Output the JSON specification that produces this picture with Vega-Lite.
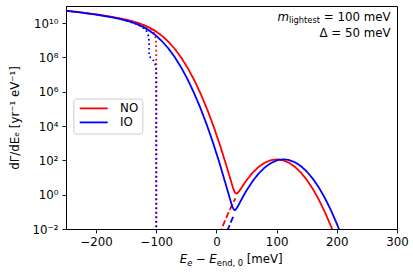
{
  "$schema": "https://vega.github.io/schema/vega-lite/v6.json",
  "width": 331,
  "height": 223,
  "autosize": {"type": "none"},
  "padding": {"left": 66, "top": 6, "right": 16, "bottom": 46},
  "config": {
    "font": "DejaVu Sans",
    "view": {"stroke": "#000000", "strokeWidth": 1},
    "axis": {
      "domainColor": "#000000", "domainWidth": 1,
      "tickColor": "#000000", "tickWidth": 0.9, "tickSize": 4,
      "labelFont": "DejaVu Sans", "labelFontSize": 11.8, "labelColor": "#000000",
      "titleFont": "DejaVu Sans", "titleFontSize": 11.8, "titleColor": "#000000", "titleFontWeight": "normal",
      "grid": false, "labelFlush": false, "labelOverlap": false
    },
    "text": {"font": "DejaVu Sans", "color": "#000000"}
  },
  "datasets": {
    "curves": [
      {"x": -250, "y": 5.374e10, "s": "NO", "k": "solid"},
      {"x": -225, "y": 4.265e10, "s": "NO", "k": "solid"},
      {"x": -200, "y": 3.266e10, "s": "NO", "k": "solid"},
      {"x": -175, "y": 2.379e10, "s": "NO", "k": "solid"},
      {"x": -160, "y": 1.897e10, "s": "NO", "k": "solid"},
      {"x": -150, "y": 1.595e10, "s": "NO", "k": "solid"},
      {"x": -142.46, "y": 1.376e10, "s": "NO", "k": "solid"},
      {"x": -131.85, "y": 1.068e10, "s": "NO", "k": "solid"},
      {"x": -121.23, "y": 7.869e9, "s": "NO", "k": "solid"},
      {"x": -110.62, "y": 5.326e9, "s": "NO", "k": "solid"},
      {"x": -100, "y": 3.222e9, "s": "NO", "k": "solid"},
      {"x": -89.39, "y": 1.696e9, "s": "NO", "k": "solid"},
      {"x": -78.77, "y": 7.59e8, "s": "NO", "k": "solid"},
      {"x": -68.16, "y": 2.832e8, "s": "NO", "k": "solid"},
      {"x": -57.54, "y": 8.682e7, "s": "NO", "k": "solid"},
      {"x": -46.93, "y": 2.162e7, "s": "NO", "k": "solid"},
      {"x": -36.31, "y": 4.331e6, "s": "NO", "k": "solid"},
      {"x": -25.7, "y": 6.918e5, "s": "NO", "k": "solid"},
      {"x": -15.08, "y": 8.872e4, "s": "NO", "k": "solid"},
      {"x": -4.47, "y": 8974, "s": "NO", "k": "solid"},
      {"x": 6.15, "y": 719.5, "s": "NO", "k": "solid"},
      {"x": 16.77, "y": 45.45, "s": "NO", "k": "solid"},
      {"x": 27.38, "y": 2.569, "s": "NO", "k": "solid"},
      {"x": 29.5, "y": 1.621, "s": "NO", "k": "solid"},
      {"x": 31.6, "y": 1.231, "s": "NO", "k": "solid"},
      {"x": 34, "y": 1.173, "s": "NO", "k": "solid"},
      {"x": 38, "y": 1.637, "s": "NO", "k": "solid"},
      {"x": 45, "y": 3.873, "s": "NO", "k": "solid"},
      {"x": 50, "y": 6.934, "s": "NO", "k": "solid"},
      {"x": 60, "y": 18.95, "s": "NO", "k": "solid"},
      {"x": 70, "y": 41.47, "s": "NO", "k": "solid"},
      {"x": 80, "y": 72.69, "s": "NO", "k": "solid"},
      {"x": 90, "y": 102.1, "s": "NO", "k": "solid"},
      {"x": 100.3, "y": 114.8, "s": "NO", "k": "solid"},
      {"x": 110, "y": 103.4, "s": "NO", "k": "solid"},
      {"x": 120, "y": 74.64, "s": "NO", "k": "solid"},
      {"x": 130, "y": 43.15, "s": "NO", "k": "solid"},
      {"x": 140, "y": 19.98, "s": "NO", "k": "solid"},
      {"x": 150, "y": 7.413, "s": "NO", "k": "solid"},
      {"x": 160, "y": 2.203, "s": "NO", "k": "solid"},
      {"x": 170, "y": 0.5241, "s": "NO", "k": "solid"},
      {"x": 180, "y": 0.09991, "s": "NO", "k": "solid"},
      {"x": 190, "y": 0.01526, "s": "NO", "k": "solid"},
      {"x": 195, "y": 0.005486, "s": "NO", "k": "solid"},
      {"x": -130, "y": 1.001e10, "s": "NO", "k": "dotted"},
      {"x": -120, "y": 7.356e9, "s": "NO", "k": "dotted"},
      {"x": -115, "y": 6.008e9, "s": "NO", "k": "dotted"},
      {"x": -112, "y": 5.159e9, "s": "NO", "k": "dotted"},
      {"x": -110, "y": 4.591e9, "s": "NO", "k": "dotted"},
      {"x": -108, "y": 4.014e9, "s": "NO", "k": "dotted"},
      {"x": -106, "y": 3.394e9, "s": "NO", "k": "dotted"},
      {"x": -104, "y": 2.706e9, "s": "NO", "k": "dotted"},
      {"x": -102, "y": 1.867e9, "s": "NO", "k": "dotted"},
      {"x": -101, "y": 1.304e9, "s": "NO", "k": "dotted"},
      {"x": -100.5, "y": 9.162e8, "s": "NO", "k": "dotted"},
      {"x": -100.2, "y": 5.768e8, "s": "NO", "k": "dotted"},
      {"x": -100.05, "y": 2.877e8, "s": "NO", "k": "dotted"},
      {"x": -100.001, "y": 4.07e7, "s": "NO", "k": "dotted"},
      {"x": -100, "y": 0.0001, "s": "NO", "k": "dotted"},
      {"x": 5, "y": 0.00483, "s": "NO", "k": "dashed"},
      {"x": 8, "y": 0.00904, "s": "NO", "k": "dashed"},
      {"x": 10, "y": 0.01352, "s": "NO", "k": "dashed"},
      {"x": 15, "y": 0.03584, "s": "NO", "k": "dashed"},
      {"x": 20, "y": 0.08983, "s": "NO", "k": "dashed"},
      {"x": 25, "y": 0.2129, "s": "NO", "k": "dashed"},
      {"x": 29.5, "y": 0.4416, "s": "NO", "k": "dashed"},
      {"x": 31.55, "y": 0.607, "s": "NO", "k": "dashed"},
      {"x": -250, "y": 5.248e10, "s": "IO", "k": "solid"},
      {"x": -225, "y": 4.134e10, "s": "IO", "k": "solid"},
      {"x": -200, "y": 3.13e10, "s": "IO", "k": "solid"},
      {"x": -175, "y": 2.232e10, "s": "IO", "k": "solid"},
      {"x": -160, "y": 1.738e10, "s": "IO", "k": "solid"},
      {"x": -150, "y": 1.423e10, "s": "IO", "k": "solid"},
      {"x": -143.75, "y": 1.219e10, "s": "IO", "k": "solid"},
      {"x": -133.13, "y": 9.048e9, "s": "IO", "k": "solid"},
      {"x": -122.52, "y": 6.169e9, "s": "IO", "k": "solid"},
      {"x": -111.9, "y": 3.761e9, "s": "IO", "k": "solid"},
      {"x": -101.29, "y": 1.997e9, "s": "IO", "k": "solid"},
      {"x": -90.67, "y": 9.031e8, "s": "IO", "k": "solid"},
      {"x": -80.06, "y": 3.412e8, "s": "IO", "k": "solid"},
      {"x": -69.44, "y": 1.062e8, "s": "IO", "k": "solid"},
      {"x": -58.83, "y": 2.692e7, "s": "IO", "k": "solid"},
      {"x": -48.21, "y": 5.523e6, "s": "IO", "k": "solid"},
      {"x": -37.6, "y": 9.084e5, "s": "IO", "k": "solid"},
      {"x": -26.98, "y": 1.207e5, "s": "IO", "k": "solid"},
      {"x": -16.37, "y": 1.279e4, "s": "IO", "k": "solid"},
      {"x": -5.75, "y": 1086, "s": "IO", "k": "solid"},
      {"x": 4.87, "y": 73.67, "s": "IO", "k": "solid"},
      {"x": 15.48, "y": 3.99, "s": "IO", "k": "solid"},
      {"x": 26.1, "y": 0.21, "s": "IO", "k": "solid"},
      {"x": 29, "y": 0.133, "s": "IO", "k": "solid"},
      {"x": 31, "y": 0.1281, "s": "IO", "k": "solid"},
      {"x": 33, "y": 0.1492, "s": "IO", "k": "solid"},
      {"x": 36.71, "y": 0.2477, "s": "IO", "k": "solid"},
      {"x": 40, "y": 0.413, "s": "IO", "k": "solid"},
      {"x": 45, "y": 0.8715, "s": "IO", "k": "solid"},
      {"x": 50, "y": 1.759, "s": "IO", "k": "solid"},
      {"x": 60, "y": 6.084, "s": "IO", "k": "solid"},
      {"x": 70, "y": 16.95, "s": "IO", "k": "solid"},
      {"x": 80, "y": 37.93, "s": "IO", "k": "solid"},
      {"x": 90, "y": 68.22, "s": "IO", "k": "solid"},
      {"x": 100, "y": 98.47, "s": "IO", "k": "solid"},
      {"x": 105, "y": 108.97, "s": "IO", "k": "solid"},
      {"x": 111.9, "y": 114.45, "s": "IO", "k": "solid"},
      {"x": 120, "y": 106.02, "s": "IO", "k": "solid"},
      {"x": 130, "y": 79.02, "s": "IO", "k": "solid"},
      {"x": 140, "y": 47.19, "s": "IO", "k": "solid"},
      {"x": 150, "y": 22.61, "s": "IO", "k": "solid"},
      {"x": 160, "y": 8.67, "s": "IO", "k": "solid"},
      {"x": 170, "y": 2.666, "s": "IO", "k": "solid"},
      {"x": 180, "y": 0.6571, "s": "IO", "k": "solid"},
      {"x": 190, "y": 0.1293, "s": "IO", "k": "solid"},
      {"x": 200, "y": 0.02046, "s": "IO", "k": "solid"},
      {"x": 205, "y": 0.007486, "s": "IO", "k": "solid"},
      {"x": -150, "y": 1.399e10, "s": "IO", "k": "dotted"},
      {"x": -140, "y": 1.101e10, "s": "IO", "k": "dotted"},
      {"x": -130, "y": 8.055e9, "s": "IO", "k": "dotted"},
      {"x": -125, "y": 6.534e9, "s": "IO", "k": "dotted"},
      {"x": -120, "y": 4.898e9, "s": "IO", "k": "dotted"},
      {"x": -117, "y": 3.784e9, "s": "IO", "k": "dotted"},
      {"x": -115, "y": 2.911e9, "s": "IO", "k": "dotted"},
      {"x": -113, "y": 1.74e9, "s": "IO", "k": "dotted"},
      {"x": -112.5, "y": 1.306e9, "s": "IO", "k": "dotted"},
      {"x": -112.1, "y": 7.954e8, "s": "IO", "k": "dotted"},
      {"x": -112, "y": 5.943e8, "s": "IO", "k": "dotted"},
      {"x": -111.95, "y": 4.71e8, "s": "IO", "k": "dotted"},
      {"x": -111.9, "y": 1.151e8, "s": "IO", "k": "dotted"},
      {"x": -111, "y": 1.095e8, "s": "IO", "k": "dotted"},
      {"x": -110, "y": 1.033e8, "s": "IO", "k": "dotted"},
      {"x": -108, "y": 9.031e7, "s": "IO", "k": "dotted"},
      {"x": -106, "y": 7.634e7, "s": "IO", "k": "dotted"},
      {"x": -104, "y": 6.085e7, "s": "IO", "k": "dotted"},
      {"x": -102, "y": 4.2e7, "s": "IO", "k": "dotted"},
      {"x": -101, "y": 2.934e7, "s": "IO", "k": "dotted"},
      {"x": -100.5, "y": 2.06e7, "s": "IO", "k": "dotted"},
      {"x": -100.2, "y": 1.297e7, "s": "IO", "k": "dotted"},
      {"x": -100.05, "y": 6.471e6, "s": "IO", "k": "dotted"},
      {"x": -100, "y": 0.0001, "s": "IO", "k": "dotted"},
      {"x": 18, "y": 0.0078, "s": "IO", "k": "dashed"},
      {"x": 20, "y": 0.01167, "s": "IO", "k": "dashed"},
      {"x": 22, "y": 0.0173, "s": "IO", "k": "dashed"},
      {"x": 25, "y": 0.03076, "s": "IO", "k": "dashed"},
      {"x": 27, "y": 0.04465, "s": "IO", "k": "dashed"},
      {"x": 29.1, "y": 0.0653, "s": "IO", "k": "dashed"}
    ]
  },
  "layer": [
    {
      "data": {"name": "curves"},
      "mark": {"type": "line", "clip": true, "strokeWidth": 1.8, "strokeJoin": "round"},
      "encoding": {
        "x": {
          "field": "x", "type": "quantitative",
          "scale": {"domain": [-250, 300], "nice": false, "zero": false},
          "axis": {"values": [-200, -100, 0, 100, 200, 300], "title": null, "labelPadding": 3.5}
        },
        "y": {
          "field": "y", "type": "quantitative",
          "scale": {"type": "log", "domain": [0.01, 1e11], "nice": false},
          "axis": {
            "values": [0.01, 1, 100, 10000, 1000000, 100000000, 10000000000],
            "labelExpr": "datum.value < 0.1 ? '10⁻²' : datum.value < 10 ? '10⁰' : datum.value < 1000 ? '10²' : datum.value < 100000 ? '10⁴' : datum.value < 10000000 ? '10⁶' : datum.value < 1000000000 ? '10⁸' : '10¹⁰'",
            "labelPadding": 4,
            "title": "dΓ/dEₑ [yr⁻¹ eV⁻¹]",
            "titlePadding": 12
          }
        },
        "color": {
          "field": "s", "type": "nominal",
          "scale": {"domain": ["NO", "IO"], "range": ["#ff0000", "#0000ff"]},
          "legend": {
            "title": null, "orient": "none", "legendX": 7.3, "legendY": 92.5,
            "symbolType": "M-1,0H7", "symbolSize": 49, "symbolStrokeWidth": 1.8,
            "labelFont": "DejaVu Sans", "labelFontSize": 11.8, "labelColor": "#000000",
            "labelOffset": 31, "padding": 4, "rowPadding": 1,
            "strokeColor": "#cccccc", "fillColor": "#ffffff", "cornerRadius": 3
          }
        },
        "strokeDash": {
          "field": "k", "type": "nominal",
          "scale": {"domain": ["solid", "dotted", "dashed"], "range": [[1, 0], [1.7, 2.8], [6.2, 2.7]]},
          "legend": null
        }
      }
    },
    {
      "data": {"values": [{}]},
      "mark": {"type": "text", "align": "right", "baseline": "alphabetic", "fontSize": 11.8},
      "encoding": {"x": {"datum": 289.3, "type": "quantitative"}, "y": {"datum": 1.4e10, "type": "quantitative"}, "text": {"value": "= 100 meV"}}
    },
    {
      "data": {"values": [{}]},
      "mark": {"type": "text", "align": "right", "baseline": "alphabetic", "fontSize": 8.3, "dx": -70.5, "dy": 2.5},
      "encoding": {"x": {"datum": 289.3, "type": "quantitative"}, "y": {"datum": 1.4e10, "type": "quantitative"}, "text": {"value": "lightest"}}
    },
    {
      "data": {"values": [{}]},
      "mark": {"type": "text", "align": "right", "baseline": "alphabetic", "fontSize": 11.8, "fontStyle": "italic", "dx": -101.6},
      "encoding": {"x": {"datum": 289.3, "type": "quantitative"}, "y": {"datum": 1.4e10, "type": "quantitative"}, "text": {"value": "m"}}
    },
    {
      "data": {"values": [{}]},
      "mark": {"type": "text", "align": "right", "baseline": "alphabetic", "fontSize": 11.8},
      "encoding": {"x": {"datum": 289.3, "type": "quantitative"}, "y": {"datum": 1.52e9, "type": "quantitative"}, "text": {"value": "Δ = 50 meV"}}
    },
    {
      "data": {"values": [{}]},
      "mark": {"type": "text", "align": "left", "baseline": "alphabetic", "fontSize": 11.8, "fontStyle": "italic", "dx": -51.4},
      "encoding": {"x": {"datum": 24.5, "type": "quantitative"}, "y": {"datum": 0.0001, "type": "quantitative"}, "text": {"value": "E"}}
    },
    {
      "data": {"values": [{}]},
      "mark": {"type": "text", "align": "left", "baseline": "alphabetic", "fontSize": 8.3, "fontStyle": "italic", "dx": -43.9, "dy": 2.5},
      "encoding": {"x": {"datum": 24.5, "type": "quantitative"}, "y": {"datum": 0.0001, "type": "quantitative"}, "text": {"value": "e"}}
    },
    {
      "data": {"values": [{}]},
      "mark": {"type": "text", "align": "left", "baseline": "alphabetic", "fontSize": 11.8, "dx": -35.3},
      "encoding": {"x": {"datum": 24.5, "type": "quantitative"}, "y": {"datum": 0.0001, "type": "quantitative"}, "text": {"value": "−"}}
    },
    {
      "data": {"values": [{}]},
      "mark": {"type": "text", "align": "left", "baseline": "alphabetic", "fontSize": 11.8, "fontStyle": "italic", "dx": -21.9},
      "encoding": {"x": {"datum": 24.5, "type": "quantitative"}, "y": {"datum": 0.0001, "type": "quantitative"}, "text": {"value": "E"}}
    },
    {
      "data": {"values": [{}]},
      "mark": {"type": "text", "align": "left", "baseline": "alphabetic", "fontSize": 8.3, "dx": -14.4, "dy": 2.5},
      "encoding": {"x": {"datum": 24.5, "type": "quantitative"}, "y": {"datum": 0.0001, "type": "quantitative"}, "text": {"value": "end, 0"}}
    },
    {
      "data": {"values": [{}]},
      "mark": {"type": "text", "align": "left", "baseline": "alphabetic", "fontSize": 11.8, "dx": 15.5},
      "encoding": {"x": {"datum": 24.5, "type": "quantitative"}, "y": {"datum": 0.0001, "type": "quantitative"}, "text": {"value": "[meV]"}}
    }
  ]
}
